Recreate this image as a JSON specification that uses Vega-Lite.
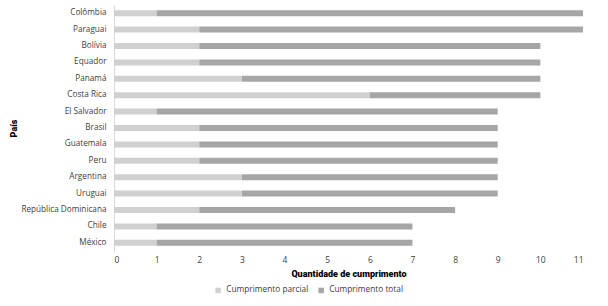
{
  "$schema": "https://vega.github.io/schema/vega-lite/v6.json",
  "width": 469,
  "height": 246,
  "autosize": {"type": "none"},
  "padding": {"left": 114, "top": 5, "right": 25, "bottom": 55},
  "background": "white",
  "config": {
    "view": {"stroke": null},
    "font": "Open Sans",
    "axis": {"labelFont": "Open Sans", "titleFont": "Roboto"}
  },
  "data": {
    "values": [
      {"pais": "Colômbia", "tipo": "Cumprimento parcial", "valor": 1},
      {"pais": "Colômbia", "tipo": "Cumprimento total", "valor": 10},
      {"pais": "Paraguai", "tipo": "Cumprimento parcial", "valor": 2},
      {"pais": "Paraguai", "tipo": "Cumprimento total", "valor": 9},
      {"pais": "Bolívia", "tipo": "Cumprimento parcial", "valor": 2},
      {"pais": "Bolívia", "tipo": "Cumprimento total", "valor": 8},
      {"pais": "Equador", "tipo": "Cumprimento parcial", "valor": 2},
      {"pais": "Equador", "tipo": "Cumprimento total", "valor": 8},
      {"pais": "Panamá", "tipo": "Cumprimento parcial", "valor": 3},
      {"pais": "Panamá", "tipo": "Cumprimento total", "valor": 7},
      {"pais": "Costa Rica", "tipo": "Cumprimento parcial", "valor": 6},
      {"pais": "Costa Rica", "tipo": "Cumprimento total", "valor": 4},
      {"pais": "El Salvador", "tipo": "Cumprimento parcial", "valor": 1},
      {"pais": "El Salvador", "tipo": "Cumprimento total", "valor": 8},
      {"pais": "Brasil", "tipo": "Cumprimento parcial", "valor": 2},
      {"pais": "Brasil", "tipo": "Cumprimento total", "valor": 7},
      {"pais": "Guatemala", "tipo": "Cumprimento parcial", "valor": 2},
      {"pais": "Guatemala", "tipo": "Cumprimento total", "valor": 7},
      {"pais": "Peru", "tipo": "Cumprimento parcial", "valor": 2},
      {"pais": "Peru", "tipo": "Cumprimento total", "valor": 7},
      {"pais": "Argentina", "tipo": "Cumprimento parcial", "valor": 3},
      {"pais": "Argentina", "tipo": "Cumprimento total", "valor": 6},
      {"pais": "Uruguai", "tipo": "Cumprimento parcial", "valor": 3},
      {"pais": "Uruguai", "tipo": "Cumprimento total", "valor": 6},
      {"pais": "República Dominicana", "tipo": "Cumprimento parcial", "valor": 2},
      {"pais": "República Dominicana", "tipo": "Cumprimento total", "valor": 6},
      {"pais": "Chile", "tipo": "Cumprimento parcial", "valor": 1},
      {"pais": "Chile", "tipo": "Cumprimento total", "valor": 6},
      {"pais": "México", "tipo": "Cumprimento parcial", "valor": 1},
      {"pais": "México", "tipo": "Cumprimento total", "valor": 6}
    ]
  },
  "mark": {"type": "bar", "size": 6},
  "encoding": {
    "y": {
      "field": "pais",
      "type": "nominal",
      "sort": ["Colômbia", "Paraguai", "Bolívia", "Equador", "Panamá", "Costa Rica", "El Salvador", "Brasil", "Guatemala", "Peru", "Argentina", "Uruguai", "República Dominicana", "Chile", "México"],
      "title": "País",
      "axis": {
        "domain": true,
        "domainColor": "#d9d9d9",
        "ticks": false,
        "labelPadding": 8,
        "labelFontSize": 8.2,
        "labelColor": "#404040",
        "titleFontSize": 9,
        "titleFontWeight": 900,
        "titleColor": "#000000",
        "titleX": -96,
        "titleAnchor": "middle"
      }
    },
    "x": {
      "field": "valor",
      "type": "quantitative",
      "stack": "zero",
      "scale": {"domain": [0, 11], "nice": false},
      "title": "Quantidade de cumprimento",
      "axis": {
        "values": [0, 1, 2, 3, 4, 5, 6, 7, 8, 9, 10, 11],
        "domain": false,
        "ticks": false,
        "grid": false,
        "labelPadding": 4,
        "labelFontSize": 8.5,
        "labelColor": "#404040",
        "titleFontSize": 9,
        "titleFontWeight": 900,
        "titleColor": "#000000",
        "titlePadding": 6
      }
    },
    "color": {
      "field": "tipo",
      "type": "nominal",
      "scale": {"domain": ["Cumprimento parcial", "Cumprimento total"], "range": ["#d0d0d0", "#a6a6a6"]},
      "legend": {
        "orient": "none",
        "legendX": 100,
        "legendY": 281,
        "direction": "horizontal",
        "title": null,
        "symbolType": "square",
        "symbolSize": 30,
        "labelFontSize": 8.3,
        "labelColor": "#404040",
        "columnPadding": 8
      }
    }
  }
}
